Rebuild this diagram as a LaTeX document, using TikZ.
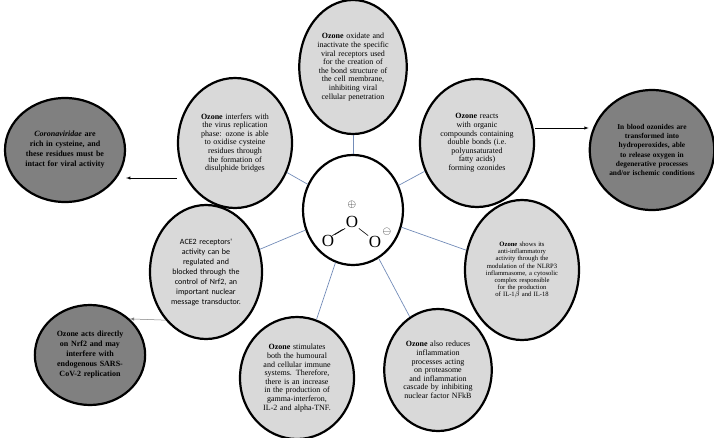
\documentclass[tikz,border=0pt]{standalone}
\usepackage{fontspec}
\setmainfont{Liberation Serif}
\newfontfamily\acefont{Carlito}
\usetikzlibrary{shapes.geometric}
\definecolor{lightfill}{rgb}{0.85,0.85,0.85}
\definecolor{darkfill}{rgb}{0.50,0.50,0.50}
\definecolor{linkblue}{rgb}{0.45,0.55,0.72}
\hyphenpenalty=10000
\tolerance=9999

\begin{document}
\begin{tikzpicture}[x=1pt, y=-1pt,
  bubble/.style={ellipse, draw=black, line width=2.2pt, fill=lightfill, inner sep=0pt,
    align=center, font=\fontsize{8}{8.6}\selectfont},
  darkbubble/.style={bubble, fill=darkfill, font=\fontsize{8}{10}\selectfont\bfseries},
  atom/.style={inner sep=0.5pt, font=\fontsize{17}{17}\selectfont},
  link/.style={linkblue, line width=0.7pt},
  pointer/.style={-latex, line width=0.5pt}]
\useasboundingbox (0,0) rectangle (714,437);

% central ozone
\node[bubble, fill=white, minimum width=100pt, minimum height=110pt] (core) at (353,210) {};
\node[atom] (otop) at (352,222) {O};
\node[atom] (oleft) at (328,241) {O};
\node[atom] (oright) at (375,242) {O};
\node[font=\fontsize{11}{11}\selectfont] (plus) at (352,205) {$\oplus$};
\node[font=\fontsize{11}{11}\selectfont] (minus) at (387,232) {$\ominus$};
\draw[line width=0.6pt] (otop.south west) -- (oleft.north east);
\draw[line width=0.6pt] ([xshift=-2.5pt,yshift=-1pt]otop.south west) -- ([xshift=-2.5pt,yshift=-1pt]oleft.north east);
\draw[line width=0.6pt] (otop.south east) -- (oright.north west);

% effects of ozone
\node[bubble, minimum width=104pt, minimum height=134pt, text width=76pt] (membrane) at (353,67)
  {\textbf{Ozone} oxidate and inactivate the specific viral receptors used for the creation of the bond structure of the cell membrane, inhibiting viral cellular penetration};
\node[bubble, minimum width=114pt, minimum height=130pt, text width=80pt] (cysteine) at (235,143)
  {\textbf{Ozone} interfers with the virus replication phase: ozone is able to oxidise cysteine residues through the formation of disulphide bridges};
\node[bubble, minimum width=114pt, minimum height=128pt, text width=74pt] (ozonides) at (477,143)
  {\textbf{Ozone} reacts with organic compounds containing double bonds (i.e. polyunsaturated fatty acids) forming ozonides};
\node[bubble, minimum width=114pt, minimum height=140pt, text width=74pt, font=\fontsize{6.6}{7.2}\selectfont] (nlrp) at (522,270)
  {\textbf{Ozone} shows its anti-inflammatory activity through the modulation of the NLRP3 inflammasome, a cytosolic complex responsible for the production of IL-1$\beta$ and IL-18};
\node[bubble, minimum width=112pt, minimum height=134pt, text width=70pt, font=\acefont\fontsize{8}{10}\selectfont] (ace) at (206,272)
  {ACE2 receptors' activity can be regulated and blocked through the control of Nrf2, an important nuclear message transductor.};
\node[bubble, minimum width=114pt, minimum height=122pt, text width=78pt] (immune) at (297,378)
  {\textbf{Ozone} stimulates both the humoural and cellular immune systems. Therefore, there is an increase in the production of gamma-interferon, IL-2 and alpha-TNF.};
\node[bubble, minimum width=106pt, minimum height=122pt, text width=76pt] (nfkb) at (438,370)
  {\textbf{Ozone} also reduces inflammation processes acting on proteasome and inflammation cascade by inhibiting nuclear factor NFkB};

% consequences
\node[darkbubble, minimum width=120pt, minimum height=104pt, text width=82pt] (corona) at (65,150)
  {\textit{Coronaviridae} are rich in cysteine, and these residues must be intact for viral activity};
\node[darkbubble, minimum width=116pt, minimum height=120pt, text width=88pt, font=\fontsize{7.4}{9.2}\selectfont\bfseries] (blood) at (652,150)
  {In blood ozonides are transformed into hydroperoxides, able to release oxygen in degenerative processes and/or ischemic conditions};
\node[darkbubble, minimum width=104pt, minimum height=100pt, text width=78pt] (nrf) at (90,355)
  {Ozone acts directly on Nrf2 and may interfere with endogenous SARS-CoV-2 replication};

% links
\foreach \target in {membrane, cysteine, ozonides, nlrp, ace, immune, nfkb}
  \draw[link] (core) -- (\target);
\draw[pointer] (cysteine.west |- 0,178) -- (corona.east |- 0,178);
\draw[pointer] (ozonides.east |- 0,128) -- (blood.west |- 0,128);
\draw[pointer, gray] (ace.south west) -- (nrf.north east);

\end{tikzpicture}
\end{document}
